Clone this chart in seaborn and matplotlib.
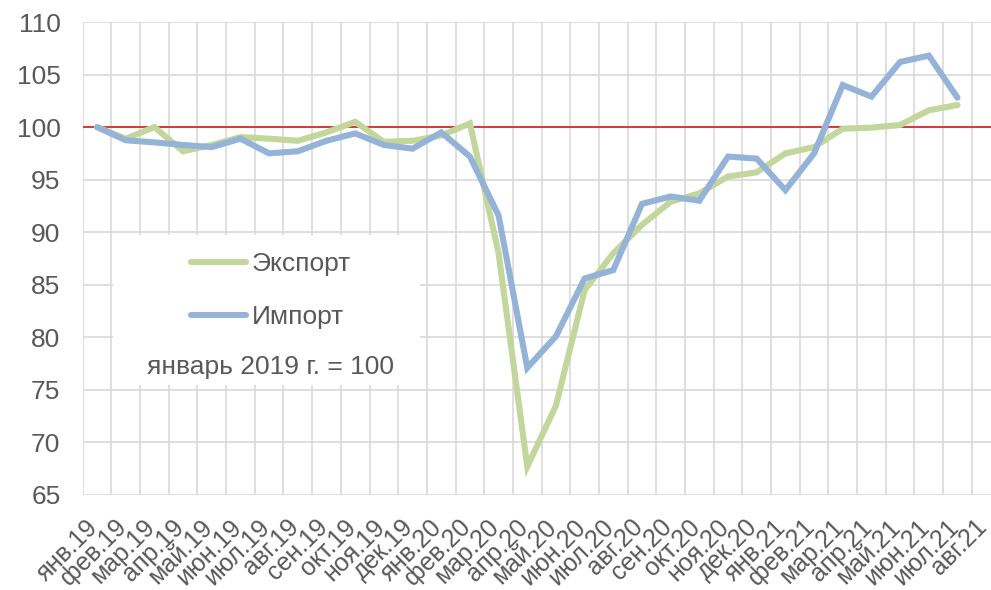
import numpy as np
import pandas as pd
import seaborn as sns
import matplotlib
matplotlib.use("Agg")
import matplotlib.pyplot as plt
from matplotlib.lines import Line2D
from matplotlib.patches import Rectangle
from matplotlib.transforms import ScaledTranslation

months = ["янв.19", "фев.19", "мар.19", "апр.19", "май.19", "июн.19", "июл.19", "авг.19",
          "сен.19", "окт.19", "ноя.19", "дек.19",
          "янв.20", "фев.20", "мар.20", "апр.20", "май.20", "июн.20", "июл.20", "авг.20",
          "сен.20", "окт.20", "ноя.20", "дек.20",
          "янв.21", "фев.21", "мар.21", "апр.21", "май.21", "июн.21", "июл.21", "авг.21"]

export_vals = [100.0, 98.9, 100.0, 97.7, 98.3, 99.05, 98.9, 98.7, 99.5, 100.5, 98.6, 98.7,
               99.2, 100.35, 88.0, 67.7, 73.5, 84.5, 88.0, 90.7, 92.9, 93.7, 95.3, 95.7,
               97.5, 98.1, 99.85, 99.95, 100.2, 101.6, 102.1]
import_vals = [100.0, 98.75, 98.55, 98.3, 98.1, 98.9, 97.5, 97.7, 98.7, 99.4, 98.3, 97.95,
               99.5, 97.2, 91.6, 77.1, 80.1, 85.6, 86.4, 92.7, 93.4, 93.0, 97.2, 97.0,
               94.0, 97.5, 104.0, 102.9, 106.2, 106.8, 102.8]

series_names = ["Экспорт", "Импорт"]
colors = ["#c3d69b", "#95b3d7"]
note = "январь 2019 г. = 100"

sns.set_theme(style="white")
plt.rcParams["font.family"] = ["Liberation Sans", "DejaVu Sans"]

df = pd.concat([
    pd.DataFrame({"x": np.arange(len(export_vals)), "v": export_vals, "s": series_names[0]}),
    pd.DataFrame({"x": np.arange(len(import_vals)), "v": import_vals, "s": series_names[1]}),
])

W, H = 991, 590
fig = plt.figure(figsize=(W / 100, H / 100), dpi=100)
left, right, top, bottom = 82.7, 1000.5, 22, 495
ax = fig.add_axes([left / W, (H - bottom) / H, (right - left) / W, (bottom - top) / H])

grid_c = "#d9d9d9"
txt_c = "#595959"

ax.axhline(100, color="#d23b3b", lw=1.4, zorder=2)
sns.lineplot(data=df, x="x", y="v", hue="s", palette=colors, lw=4.4, ax=ax,
             legend=False, zorder=3, sort=False)
for ln in ax.lines[1:]:
    ln.set_solid_capstyle("round")
    ln.set_solid_joinstyle("miter")

ax.set_xlim(-0.5, len(months) - 0.5)
ax.set_ylim(65, 110)
ax.set_yticks(np.arange(65, 111, 5))
ax.set_xticks(np.arange(len(months)))
ax.set_xticklabels(months)
ax.set_xticks(np.arange(len(months) + 1) - 0.5, minor=True)
ax.grid(False)
ax.grid(True, which="minor", axis="x", color=grid_c, lw=1.2, zorder=0)
ax.grid(True, which="major", axis="y", color=grid_c, lw=1.2, zorder=0)
ax.set_axisbelow(True)
for s in ax.spines.values():
    s.set_visible(False)
ax.set_xlabel("")
ax.set_ylabel("")
ax.tick_params(axis="y", length=0, pad=16, labelsize=19, labelcolor=txt_c)
ax.tick_params(axis="x", which="both", length=0, pad=24, labelsize=18, labelcolor=txt_c)
off = ScaledTranslation(2 / 100, 0, fig.dpi_scale_trans)
for lab in ax.get_xticklabels():
    lab.set_rotation(45)
    lab.set_ha("right")
    lab.set_va("baseline")
    lab.set_rotation_mode("anchor")
    lab.set_transform(lab.get_transform() + off)

# legend box
x0, x1, y0, y1 = 113, 420, 235, 385
ax.add_patch(Rectangle(((x0 - left) / (right - left), (bottom - y1) / (bottom - top)),
                       (x1 - x0) / (right - left), (y1 - y0) / (bottom - top),
                       transform=ax.transAxes, facecolor="white", edgecolor="none", zorder=1))
handles = [Line2D([], [], color=c, lw=4.4, solid_capstyle="round") for c in colors]
leg = ax.legend(handles, series_names, loc="upper left",
                bbox_to_anchor=((191 - left) / (right - left), (bottom - 252) / (bottom - top)),
                bbox_transform=ax.transAxes, frameon=False, fontsize=19,
                handlelength=2.1, handletextpad=0.2, labelspacing=1.1, borderpad=0,
                borderaxespad=0)
for t in leg.get_texts():
    t.set_color(txt_c)
ax.text((271 - left) / (right - left), (bottom - 367) / (bottom - top), note,
        transform=ax.transAxes, ha="center", va="center", fontsize=19, color=txt_c, zorder=4)

fig.savefig("out.png", dpi=100)
